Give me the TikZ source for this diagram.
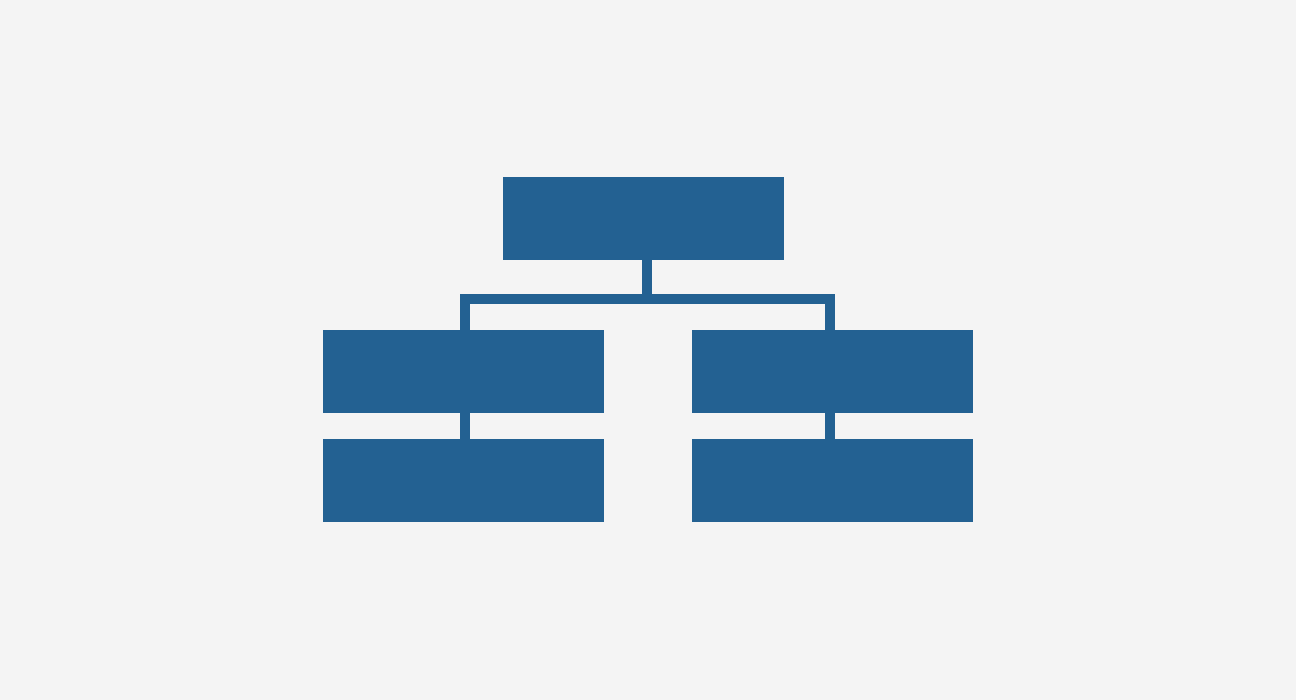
\documentclass[tikz,border=0pt]{standalone}
\definecolor{bg}{HTML}{F4F4F4}
\definecolor{boxblue}{HTML}{236192}
\begin{document}
\begin{tikzpicture}[x=1pt,y=-1pt,
  blk/.style={fill=boxblue,draw=none,inner sep=0pt,outer sep=0pt,minimum width=281pt,minimum height=83pt,anchor=north west},
  conn/.style={draw=boxblue,line width=10pt,line join=miter,line cap=butt}]
\fill[bg] (0,0) rectangle (1296,700);
\useasboundingbox (0,0) rectangle (1296,700);
\node[blk] (top) at (503,177) {};
\node[blk] (ml) at (323,330) {};
\node[blk] (mr) at (692,330) {};
\node[blk] (bl) at (323,439) {};
\node[blk] (br) at (692,439) {};
\coordinate (sx) at (647,299);
\coordinate (lx) at (465,299);
\coordinate (rx) at (830,299);
\draw[conn] (top.south -| sx) -- (sx);
\draw[conn] (ml.north -| lx) -- (lx) -- (rx) -- (mr.north -| rx);
\draw[conn] (ml.south -| lx) -- (bl.north -| lx);
\draw[conn] (mr.south -| rx) -- (br.north -| rx);
\end{tikzpicture}
\end{document}
